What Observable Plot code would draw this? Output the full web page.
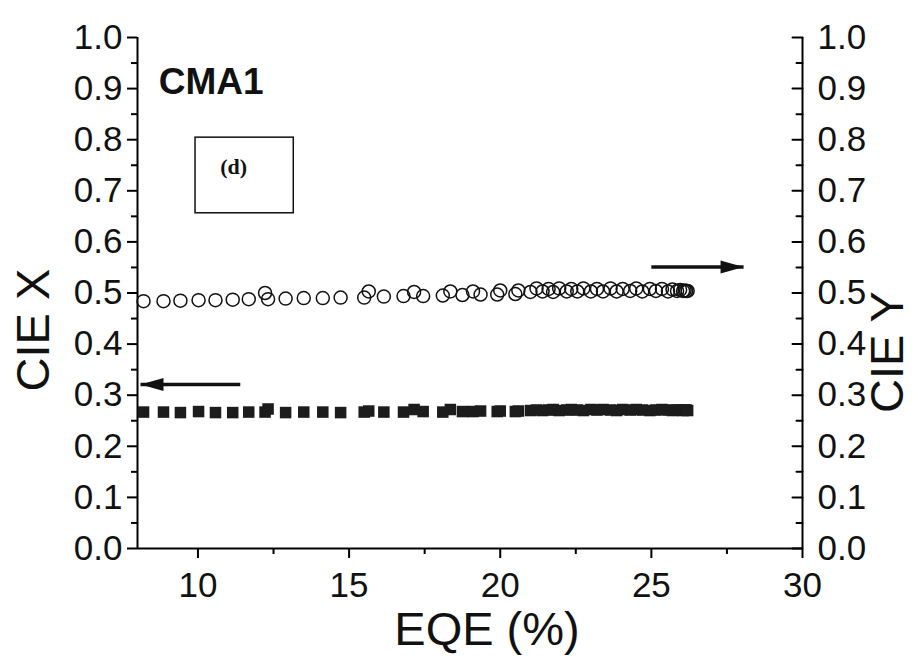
<!DOCTYPE html>
<html><head><meta charset="utf-8">
<script src="https://cdn.jsdelivr.net/npm/d3@7"></script>
<script src="https://cdn.jsdelivr.net/npm/@observablehq/plot@0.6"></script>
<style>body{margin:0;background:#fff;}</style>
</head><body><div id="chart"></div>
<script>
// EQE (%) values shared by both series
const eqe = [8.2, 8.86, 9.42, 10.02, 10.58, 11.15, 11.68, 12.22, 12.32, 12.9, 13.5, 14.13, 14.72, 15.5, 15.65, 16.15, 16.8, 17.15, 17.45, 18.1, 18.35, 18.75, 19.1, 19.35, 19.9, 20.0, 20.5, 20.6,
  21.0, 21.2, 21.4, 21.6, 21.75, 21.95, 22.2, 22.35, 22.55, 22.75, 23.0, 23.2, 23.4, 23.65, 23.85, 24.05, 24.3, 24.5, 24.7, 24.95, 25.15, 25.35, 25.55, 25.7, 25.85, 25.95, 26.05, 26.1, 26.15, 26.2];
// CIE X (left axis, filled squares)
const cieX = [0.267,0.267,0.266,0.268,0.266,0.266,0.267,0.267,0.273,0.266,0.267,0.267,0.266,0.267,0.269,0.267,0.267,0.272,0.268,0.267,0.272,0.268,0.268,0.269,0.268,0.269,0.268,0.269,
  0.270,0.271,0.270,0.271,0.272,0.270,0.271,0.272,0.271,0.270,0.272,0.271,0.272,0.271,0.270,0.272,0.271,0.272,0.271,0.270,0.271,0.272,0.271,0.270,0.271,0.271,0.270,0.271,0.271,0.270];
// CIE Y (right axis, open circles)
const cieY = [0.484,0.484,0.485,0.486,0.486,0.487,0.488,0.500,0.488,0.489,0.490,0.490,0.491,0.491,0.503,0.493,0.494,0.502,0.494,0.495,0.503,0.496,0.503,0.497,0.497,0.505,0.498,0.505,
  0.502,0.509,0.503,0.508,0.502,0.509,0.503,0.508,0.503,0.509,0.503,0.508,0.503,0.509,0.503,0.508,0.504,0.509,0.503,0.508,0.504,0.508,0.503,0.507,0.504,0.506,0.504,0.505,0.504,0.504];

const xTicks = [10, 15, 20, 25, 30];
const xMinorTicks = [12.5, 17.5, 22.5, 27.5];
const yTicks = [0, 0.1, 0.2, 0.3, 0.4, 0.5, 0.6, 0.7, 0.8, 0.9, 1.0];
const yMinorTicks = [0.05, 0.15, 0.25, 0.35, 0.45, 0.55, 0.65, 0.75, 0.85, 0.95];

const xTitle = "EQE (%)";
const yTitleLeft = "CIE X";
const yTitleRight = "CIE Y";
const sampleName = "CMA1";
const panelLabel = "(d)";

// annotation arrows (data coordinates): tail x1 -> tip x2
const arrows = [
  {x1: 11.4, x2: 8.1, y: 0.321, dir: -90},
  {x1: 25.0, x2: 28.05, y: 0.551, dir: 90}
];
const panelBox = [{x1: 9.92, x2: 13.17, y1: 0.656, y2: 0.804}];

const rows = eqe.map((e, i) => ({eqe: e, cx: cieX[i], cy: cieY[i]}));
const font = "'Liberation Sans', Arial, Helvetica, sans-serif";

// narrow filled arrowhead with its tip at the origin, pointing up
const headSymbol = {draw(ctx) { ctx.moveTo(0, 0); ctx.lineTo(-6.5, 23); ctx.lineTo(6.5, 23); ctx.closePath(); }};
// inward tick for the right-hand axis (drawn pointing left, into the plot)
const tickShape = {draw(ctx, l) { ctx.moveTo(0, 0); ctx.lineTo(0, -l); }};

const chart = Plot.plot({
  width: 913, height: 661,
  marginLeft: 137, marginRight: 111, marginTop: 37, marginBottom: 113,
  x: {domain: [8, 30]},
  y: {domain: [0, 1]},
  style: {fontFamily: font, color: "#000", background: "#fff"},
  marks: [
    // bottom axis
    Plot.axisX(xMinorTicks, {tickSize: 6, fill: "none", strokeWidth: 2, label: null}),
    Plot.axisX(xTicks, {tickSize: 10, tickPadding: 14, fontSize: 35, strokeWidth: 2, label: null, fill: "#111"}),
    // left axis
    Plot.axisY(yMinorTicks, {anchor: "left", tickSize: 6, fill: "none", strokeWidth: 2, label: null}),
    Plot.axisY(yTicks, {anchor: "left", tickSize: 10, tickPadding: 5, tickFormat: d3.format(".1f"), fontSize: 35, strokeWidth: 2, label: null, fill: "#111"}),
    // right axis: inward ticks + labels
    Plot.vector(yMinorTicks, {x: 30, y: d => d, length: 6, rotate: -90, anchor: "start", shape: tickShape, strokeWidth: 2, stroke: "#000"}),
    Plot.vector(yTicks, {x: 30, y: d => d, length: 10, rotate: -90, anchor: "start", shape: tickShape, strokeWidth: 2, stroke: "#000"}),
    Plot.axisY(yTicks, {anchor: "right", tickSize: 0, tickPadding: 15, tickFormat: d3.format(".1f"), fontSize: 35, label: null, fill: "#111"}),
    // frame lines
    Plot.ruleX([8], {strokeWidth: 2}),
    Plot.ruleX([30], {strokeWidth: 2}),
    Plot.ruleY([0], {strokeWidth: 2}),
    // data
    Plot.dot(rows, {x: "eqe", y: "cx", symbol: "square", r: 6.5, fill: "#1c1c1c", stroke: "none"}),
    Plot.dot(rows, {x: "eqe", y: "cy", r: 6.5, stroke: "#111", strokeWidth: 1.5, fill: "none"}),
    // arrows: shaft + filled head
    Plot.link(arrows, {x1: "x1", x2: "x2", y1: "y", y2: "y", strokeWidth: 3.5, stroke: "#111"}),
    Plot.dot(arrows, {x: "x2", y: "y", symbol: headSymbol, rotate: "dir", fill: "#111", stroke: "none"}),
    // annotations
    Plot.text([sampleName], {x: 8.7, y: 0.913, text: d => d, textAnchor: "start", fontSize: 37, fontWeight: "bold", fill: "#111"}),
    Plot.rect(panelBox, {x1: "x1", x2: "x2", y1: "y1", y2: "y2", fill: "none", stroke: "#111", strokeWidth: 1.5}),
    Plot.text([panelLabel], {x: 11.18, y: 0.746, text: d => d, fontSize: 22, fontWeight: "bold", fontFamily: "'Liberation Serif', 'Times New Roman', serif", fill: "#111"}),
    // axis titles
    Plot.text([xTitle], {frameAnchor: "bottom", text: d => d, textAnchor: "middle", lineAnchor: "middle", dx: 17, dy: 81, fontSize: 47, fill: "#111"}),
    Plot.text([yTitleLeft], {frameAnchor: "left", text: d => d, textAnchor: "middle", lineAnchor: "middle", dx: -104, dy: 37, rotate: -90, fontSize: 47, fill: "#111"}),
    Plot.text([yTitleRight], {frameAnchor: "right", text: d => d, textAnchor: "middle", lineAnchor: "middle", dx: 85, dy: 59, rotate: -90, fontSize: 47, fill: "#111"})
  ]
});
document.getElementById("chart").append(chart);
</script>
</body></html>
